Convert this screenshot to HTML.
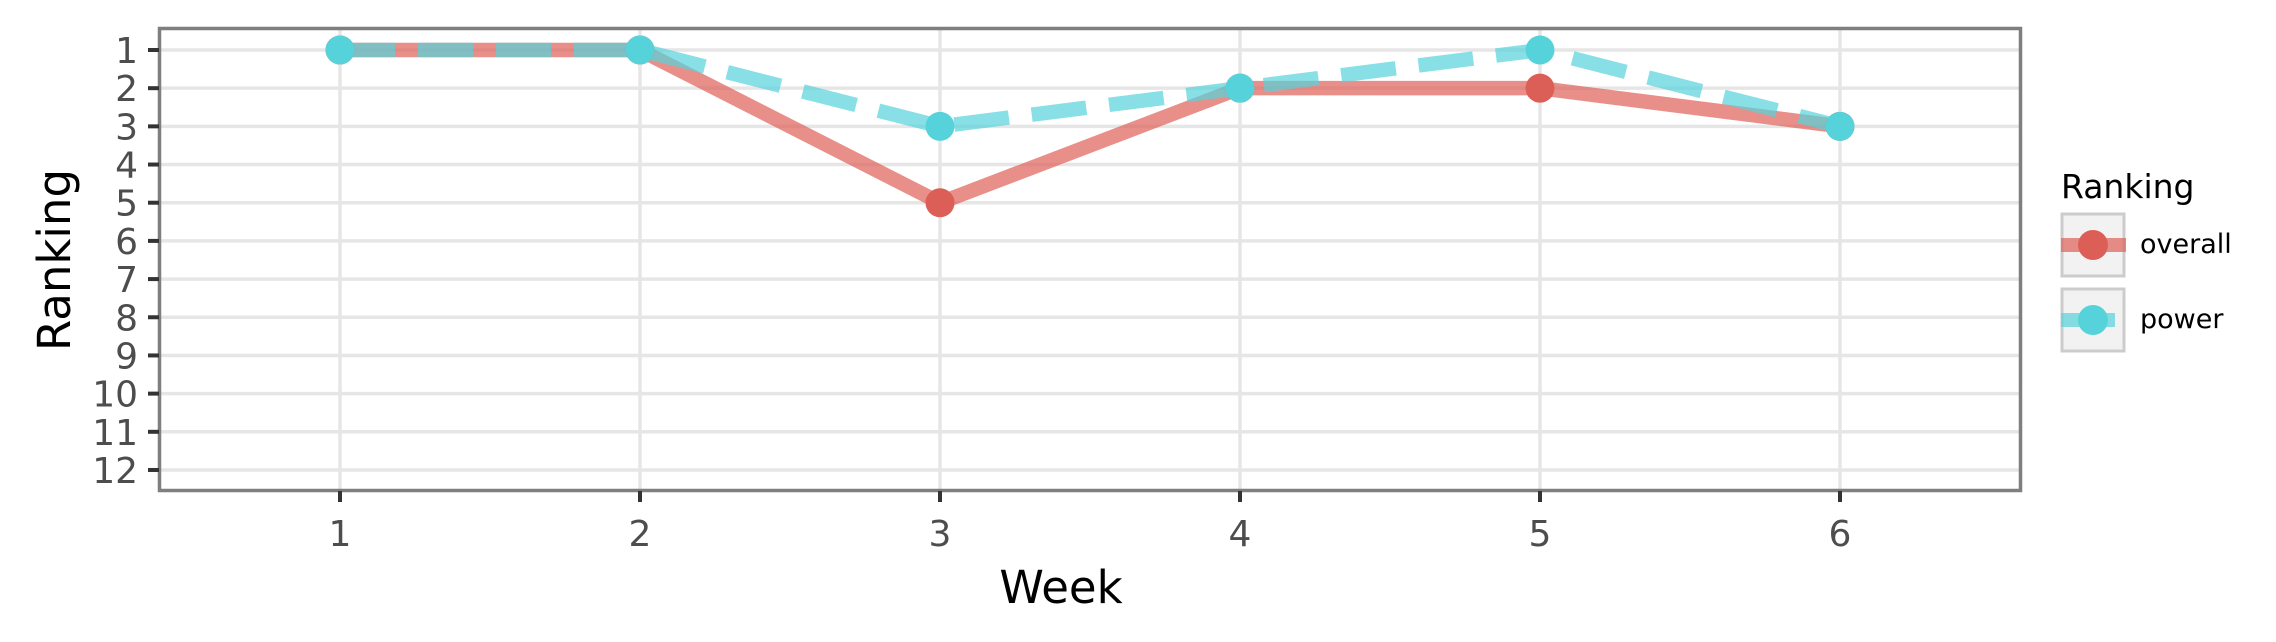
<!DOCTYPE html>
<html><head><meta charset="utf-8"><style>
html,body{margin:0;padding:0;background:#fff;}
svg{display:block;font-family:"DejaVu Sans","Liberation Sans",sans-serif;}
</style></head><body>
<svg id="chart" width="2276" height="642" viewBox="0 0 2276 642">
<g id="grid"></g>
<g id="lines"></g>
<g id="points"></g>
<rect x="159.5" y="28.5" width="1861" height="462" fill="none" stroke="#7f7f7f" stroke-width="3.5"/>
<g id="axes"></g>
<text x="1061" y="603" font-size="45" text-anchor="middle" fill="#000">Week</text>
<text x="0" y="0" font-size="45" text-anchor="middle" fill="#000" transform="translate(70,260) rotate(-90)">Ranking</text>
<g>
<text x="2061" y="198" font-size="33" fill="#000">Ranking</text>
<g>
<rect x="2062" y="214" width="62" height="62" fill="#f2f2f2" stroke="#cccccc" stroke-width="3"/>
<line x1="2061" y1="245" x2="2126" y2="245" stroke="#df5f57" stroke-opacity="0.7" stroke-width="14"/>
<circle cx="2093" cy="245" r="15" fill="#dc5f57"/>
<text x="2140" y="253" font-size="27" fill="#000">overall</text>
</g>
<g>
<rect x="2062" y="289" width="62" height="62" fill="#f2f2f2" stroke="#cccccc" stroke-width="3"/>
<line x1="2061" y1="320" x2="2115" y2="320" stroke="#55d3db" stroke-opacity="0.7" stroke-width="14"/>
<circle cx="2093" cy="320" r="15" fill="#56d3da"/>
<text x="2140" y="328" font-size="27" fill="#000">power</text>
</g>
</g>
</svg>
<script>
const weeks = [1, 2, 3, 4, 5, 6];
const overall = [1, 1, 5, 2, 2, 3];
const power = [1, 1, 3, 2, 1, 3];
const yTicks = [1,2,3,4,5,6,7,8,9,10,11,12];
const xTicks = [1,2,3,4,5,6];

const NS = "http://www.w3.org/2000/svg";
function xs(w){ return 340 + (w - 1) * 300; }
function ys(r){ return 50 + (r - 1) * 38.18; }
function mk(tag, attrs, parent){
  const e = document.createElementNS(NS, tag);
  for (const k in attrs) e.setAttribute(k, attrs[k]);
  parent.appendChild(e);
  return e;
}
const grid = document.getElementById('grid');
const axes = document.getElementById('axes');
const lines = document.getElementById('lines');
const pts = document.getElementById('points');

yTicks.forEach(t => {
  const g = mk('line', {x1:161, x2:2019, y1:ys(t), y2:ys(t), stroke:'#e6e6e6', 'stroke-width':3.5}, grid);
  
  
  const tk = mk('line', {x1:148, x2:159, y1:ys(t), y2:ys(t), stroke:'#333', 'stroke-width':4}, axes);
  
  
  const lb = mk('text', {x:138, y:ys(t)+13, 'font-size':36, 'text-anchor':'end', fill:'#4d4d4d'}, axes);
  lb.textContent = t;
  
  
});
xTicks.forEach(t => {
  const g = mk('line', {x1:xs(t), x2:xs(t), y1:30, y2:489, stroke:'#e6e6e6', 'stroke-width':3.5}, grid);
  
  
  const tk = mk('line', {x1:xs(t), x2:xs(t), y1:491, y2:502, stroke:'#333', 'stroke-width':4}, axes);
  
  
  const lb = mk('text', {x:xs(t), y:546, 'font-size':36, 'text-anchor':'middle', fill:'#4d4d4d'}, axes);
  lb.textContent = t;
  
  
});

function pathFor(vals){ return vals.map((v,i)=>(i?'L':'M')+xs(weeks[i])+','+ys(v)).join(' '); }
const lo = mk('path', {d:pathFor(overall), fill:'none', stroke:'#df5f57', 'stroke-opacity':0.7, 'stroke-width':14.5, 'stroke-linejoin':'round'}, lines);


const lp = mk('path', {d:pathFor(power), fill:'none', stroke:'#55d3db', 'stroke-opacity':0.7, 'stroke-width':14.5, 'stroke-dasharray':'55 23'}, lines);



overall.forEach((v,i) => {
  const c = mk('circle', {cx:xs(weeks[i]), cy:ys(v), r:14.5, fill:'#dc5f57'}, pts);
  
  
});
power.forEach((v,i) => {
  const c = mk('circle', {cx:xs(weeks[i]), cy:ys(v), r:14.5, fill:'#56d3da'}, pts);
  
  
});
</script>
</body></html>
